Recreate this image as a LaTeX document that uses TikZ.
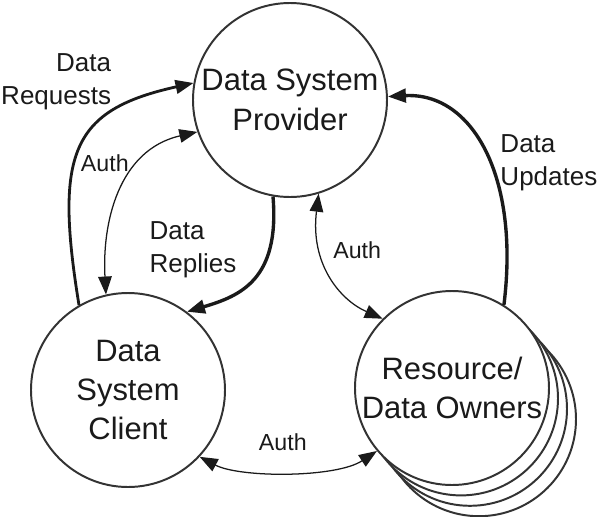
\documentclass[tikz,border=0pt]{standalone}
\usepackage{fontspec}
\setmainfont{Liberation Sans}
\usetikzlibrary{arrows.meta}
\definecolor{ink}{HTML}{1A1A1A}
\definecolor{rim}{HTML}{333333}

\begin{document}
\begin{tikzpicture}[
    >={Triangle[length=4.5mm, width=3.4mm]},
    N/.style={circle, draw=rim, fill=white, line width=1.4pt, minimum size=4.85cm, inner sep=0pt,
              align=center, text=ink, font=\fontsize{22}{28}\selectfont},
    A/.style={->, line width=#1, color=ink},
    L/.style={font=\fontsize{18.5}{23.5}\selectfont, text=ink, inner sep=1pt},
    S/.style={font=\fontsize{16.5}{20}\selectfont, text=ink}
]
\useasboundingbox (0,0) rectangle (15,-12.925);

% === NODES ===
\node[N] (prov) at (7.25,-2.5) {Data System\\Provider};
\node[N] (cli) at (3.2,-9.75) {Data\\System\\Client};

% owners stack, back to front
\node[N] (own3) at (11.975,-10.48) {};
\node[N] (own2) at (11.75,-10.22) {};
\node[N] (own1) at (11.525,-9.96) {};
\node[N] (own) at (11.3,-9.7) {Resource/\\Data Owners};

% === DATA FLOWS ===
\draw[A=2pt] (cli.120) .. controls (1.35,-3.8) and (1.8,-2.75) .. (prov.170);
\draw[A=2.4pt] (prov.260) .. controls (7.0,-7.0) and (6.0,-7.4) .. (cli.53);
\draw[A=2.4pt] (own.58) .. controls (13.0,-4.4) and (11.8,-2.3) .. (prov.2);

\node[L, anchor=east, align=right] (lreq) at (2.82,-2.05) {Data\\Requests};
\node[L, anchor=west, align=left] (lrep) at (3.7,-6.25) {Data\\Replies};
\node[L, anchor=west, align=left] (lupd) at (12.47,-4.08) {Data\\Updates};

% === AUTH ===
\draw[A=0.9pt, <->] (cli.103) .. controls (2.55,-5.6) and (2.95,-3.75) .. (prov.199);
\draw[A=0.9pt, <->] (prov.287) .. controls (7.75,-6.6) and (8.5,-7.5) .. (own.135);
\draw[A=0.9pt, <->] (cli.317) .. controls (6.0,-11.95) and (8.4,-11.95) .. (own.220);

\node[S] (la1) at (2.62,-4.08) {Auth};
\node[S] (la2) at (8.93,-6.25) {Auth};
\node[S] (la3) at (7.07,-11.05) {Auth};

\end{tikzpicture}
\end{document}
